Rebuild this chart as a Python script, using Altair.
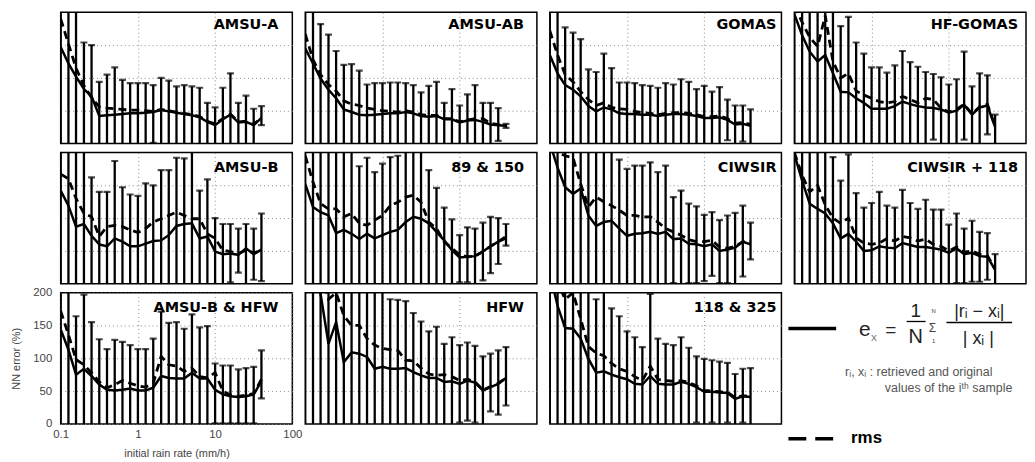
import altair as alt
import pandas as pd

# rain-rate bins (mm/h)
RATES = [0.1, 0.126, 0.158, 0.2, 0.251, 0.316, 0.398, 0.501, 0.631, 0.794, 1.0,
         1.26, 1.58, 2.0, 2.51, 3.16, 3.98, 5.01, 6.31, 7.94, 10.0, 12.6, 15.8,
         20.0, 25.1, 31.6, 39.8]

PANELS = ["AMSU-A", "AMSU-AB", "GOMAS", "HF-GOMAS",
          "AMSU-B", "89 & 150", "CIWSIR", "CIWSIR + 118",
          "AMSU-B & HFW", "HFW", "118 & 325"]

# mean relative error (solid), rms (dashed), top / bottom of error bar (%)
# 500 = top beyond the axis, -30 = bottom below the axis
AMSUA_MEAN = [147, 122, 102, 83, 72, 42, 43, 44, 45, 46, 46, 47, 48, 51, 49, 47, 45, 43, 40, 33, 28, 37, 44, 32, 33, 28, 39]
AMSUA_RMS = [190, 152, 115, 88, 70, 56, 54, 53, 52, 51, 51, 50, 49, 52, 50, 48, 46, 44, 41, 34, 30, 38, 45, 33, 34, 29, 40]
AMSUA_UP = [500, 500, 500, 154, 150, 94, 105, 116, 97, 92, 92, 92, 89, 100, 96, 87, 89, 87, 85, 62, 55, 85, 107, 62, 73, 53, 57]
AMSUA_LOW = [-30, -30, -30, -30, -30, -30, -30, -30, -30, -30, -30, -30, 1, -30, -30, -30, -30, -30, -30, -30, -30, -30, -30, -30, -30, -30, 28]

AMSUAB_MEAN = [145, 122, 99, 82, 69, 52, 48, 44, 43, 44, 45, 46, 46, 48, 46, 42, 41, 42, 37, 37, 32, 35, 36, 33, 29, 28, 27]
AMSUAB_RMS = [167, 128, 105, 90, 80, 65, 60, 58, 54, 52, 50, 49, 48, 50, 48, 44, 43, 43, 38, 38, 33, 36, 38, 38, 31, 29, 26]
AMSUAB_UP = [500, 500, 182, 166, 141, 120, 121, 111, 90, 92, 92, 93, 93, 92, 89, 78, 88, 94, 62, 83, 58, 75, 89, 62, 62, 54, 30]
AMSUAB_LOW = [-30, -30, -30, -30, -30, -30, -30, -30, -30, -30, -30, -30, -30, -30, -30, -30, -30, -30, -30, -30, -30, -30, -30, -30, -30, 4, 24]

GOMAS_MEAN = [135, 107, 89, 82, 72, 57, 49, 55, 52, 46, 45, 45, 44, 44, 42, 44, 45, 45, 44, 42, 39, 39, 40, 36, 29, 30, 27]
GOMAS_RMS = [172, 135, 105, 94, 79, 67, 58, 62, 55, 53, 52, 49, 47, 46, 44, 46, 47, 47, 46, 44, 41, 41, 42, 38, 31, 32, 29]
GOMAS_UP = [500, 500, 177, 169, 159, 113, 109, 137, 115, 93, 93, 92, 89, 88, 85, 92, 90, 98, 94, 83, 88, 79, 86, 67, 58, 58, 52]
GOMAS_LOW = [-30, -30, -30, -30, -30, -30, -30, -30, -30, -30, -30, -30, -30, -30, -30, -30, -30, -30, -30, -30, -30, -30, -30, 5, -30, 3, -30]

HFGOMAS_MEAN = [197, 165, 140, 125, 135, 107, 79, 78, 69, 62, 53, 53, 53, 57, 64, 60, 57, 55, 54, 52, 47, 50, 59, 44, 55, 58, 25]
HFGOMAS_RMS = [210, 185, 162, 148, 195, 125, 100, 107, 80, 74, 69, 64, 62, 64, 72, 67, 62, 69, 67, 54, 48, 52, 60, 45, 56, 60, 27]
HFGOMAS_UP = [500, 500, 500, 500, 500, 500, 179, 193, 154, 137, 116, 116, 108, 119, 141, 124, 117, 109, 106, 101, 90, 98, 140, 87, 107, 104, 44]
HFGOMAS_LOW = [-30, -30, -30, -30, -30, -30, -30, -30, -30, -30, -30, -30, -30, -30, -30, -30, -30, -30, 6, -30, -30, -30, 6, -30, -30, 14, -30]

AMSUB_MEAN = [142, 119, 87, 91, 73, 60, 57, 69, 64, 57, 57, 61, 65, 66, 74, 88, 91, 92, 69, 72, 49, 45, 46, 44, 54, 45, 52]
AMSUB_RMS = [167, 160, 130, 107, 102, 72, 87, 89, 87, 82, 78, 84, 94, 99, 104, 109, 104, 99, 99, 76, 69, 51, 49, 46, 51, 47, 51]
AMSUB_UP = [500, 500, 500, 500, 162, 140, 140, 187, 147, 136, 134, 153, 150, 173, 173, 192, 191, 500, 142, 159, 100, 91, 91, 84, 91, 84, 107]
AMSUB_LOW = [-30, -30, -30, -30, -30, -30, -30, -30, -30, -30, -30, -30, -30, -30, -30, -30, -30, -30, -30, -30, -30, -30, 2, 17, -30, 6, 4]

C89_MEAN = [152, 117, 109, 104, 77, 82, 76, 68, 76, 69, 74, 79, 82, 94, 102, 99, 92, 79, 66, 51, 40, 41, 42, 49, 57, 64, 69]
C89_RMS = [195, 155, 122, 114, 114, 102, 107, 92, 89, 97, 104, 119, 124, 132, 135, 124, 94, 84, 64, 54, 44, 41, 42, 49, 57, 64, 72]
C89_UP = [500, 500, 500, 500, 500, 500, 500, 179, 192, 170, 183, 193, 195, 500, 500, 500, 173, 146, 116, 98, 74, 86, 84, 93, 102, 100, 91]
C89_LOW = [-30, -30, -30, -30, -30, -30, -30, -30, -30, -30, -30, -30, -30, -30, -30, -30, -30, -30, -30, -30, 2, 2, -30, 5, 16, 30, 58]

CIWSIR_MEAN = [215, 177, 147, 137, 145, 104, 88, 94, 96, 84, 73, 76, 77, 79, 76, 79, 68, 69, 61, 60, 57, 60, 50, 52, 55, 64, 60]
CIWSIR_RMS = [230, 200, 195, 192, 152, 117, 132, 125, 119, 112, 104, 104, 102, 102, 94, 84, 79, 74, 67, 64, 64, 66, 56, 54, 57, 64, 64]
CIWSIR_UP = [500, 500, 500, 500, 500, 500, 500, 500, 500, 189, 175, 180, 180, 185, 170, 180, 132, 142, 122, 118, 105, 109, 97, 104, 108, 119, 93]
CIWSIR_LOW = [-30, -30, -30, -30, -30, -30, -30, -30, -30, -30, -30, -30, -30, -30, -30, -30, 1, -30, 1, 1, 4, 12, 1, 1, -30, 11, 37]

CIW118_MEAN = [197, 157, 122, 114, 107, 92, 69, 76, 64, 50, 51, 57, 55, 54, 62, 59, 56, 56, 54, 52, 47, 54, 45, 47, 42, 41, 21]
CIW118_RMS = [200, 165, 140, 150, 120, 100, 92, 100, 70, 62, 60, 62, 69, 65, 72, 70, 65, 68, 60, 57, 50, 56, 48, 50, 45, 43, 22]
CIW118_UP = [500, 500, 500, 500, 500, 193, 157, 197, 138, 116, 123, 140, 119, 116, 143, 123, 114, 128, 113, 113, 90, 107, 84, 96, 79, 77, 45]
CIW118_LOW = [-30, -30, -30, -30, -30, -30, -30, -30, -30, -30, -30, -30, -30, -30, -30, -30, -30, -30, -30, -30, -30, 1, 1, 3, 3, 6, -30]

BHFW_MEAN = [144, 113, 75, 84, 73, 60, 52, 51, 52, 54, 51, 51, 55, 73, 70, 69, 69, 78, 69, 69, 52, 45, 42, 41, 42, 45, 65]
BHFW_RMS = [172, 136, 98, 90, 78, 64, 55, 60, 66, 62, 58, 56, 62, 103, 90, 88, 80, 85, 72, 70, 78, 50, 44, 42, 44, 46, 68]
BHFW_UP = [500, 500, 164, 197, 155, 129, 114, 128, 125, 120, 114, 114, 130, 171, 154, 155, 145, 167, 147, 149, 92, 89, 89, 83, 85, 87, 112]
BHFW_LOW = [-30, -30, -30, -30, -30, -30, -30, -30, -30, -30, -30, -30, -30, -30, -30, -30, -30, -30, -30, -30, 1, 1, 1, 1, 1, 1, 39]

HFW_MEAN = [240, 230, 198, 122, 155, 94, 109, 107, 102, 84, 87, 84, 84, 85, 79, 74, 70, 70, 64, 65, 61, 66, 63, 51, 56, 61, 70]
HFW_RMS = [260, 250, 230, 190, 200, 165, 150, 150, 130, 120, 115, 113, 112, 97, 96, 85, 76, 74, 75, 72, 66, 68, 64, 52, 57, 62, 70]
HFW_UP = [500, 500, 500, 500, 500, 500, 500, 500, 500, 500, 500, 190, 189, 187, 169, 156, 141, 148, 122, 132, 120, 124, 119, 103, 107, 112, 117]
HFW_LOW = [-30, -30, -30, -30, -30, -30, -30, -30, -30, -30, -30, -30, -30, -30, -30, -30, -30, -30, -30, -30, 2, 5, 2, -30, 19, 14, 28]

C118_MEAN = [230, 180, 146, 145, 130, 99, 78, 80, 75, 71, 68, 61, 60, 73, 61, 60, 60, 64, 61, 56, 49, 49, 48, 47, 38, 42, 41]
C118_RMS = [240, 215, 190, 200, 160, 118, 108, 104, 92, 84, 80, 72, 66, 88, 68, 66, 65, 66, 63, 58, 51, 50, 49, 48, 40, 43, 42]
C118_UP = [500, 500, 500, 500, 500, 500, 190, 500, 176, 164, 141, 132, 117, 198, 130, 122, 120, 132, 116, 103, 99, 97, 95, 93, 76, 84, 85]
C118_LOW = [-30, -30, -30, -30, -30, -30, -30, -30, -30, -30, -30, -30, -30, -30, -30, -30, -30, -30, -30, 2, -30, 2, -30, 2, -30, 2, -30]

SERIES = {
    "AMSU-A": (AMSUA_MEAN, AMSUA_RMS, AMSUA_UP, AMSUA_LOW),
    "AMSU-AB": (AMSUAB_MEAN, AMSUAB_RMS, AMSUAB_UP, AMSUAB_LOW),
    "GOMAS": (GOMAS_MEAN, GOMAS_RMS, GOMAS_UP, GOMAS_LOW),
    "HF-GOMAS": (HFGOMAS_MEAN, HFGOMAS_RMS, HFGOMAS_UP, HFGOMAS_LOW),
    "AMSU-B": (AMSUB_MEAN, AMSUB_RMS, AMSUB_UP, AMSUB_LOW),
    "89 & 150": (C89_MEAN, C89_RMS, C89_UP, C89_LOW),
    "CIWSIR": (CIWSIR_MEAN, CIWSIR_RMS, CIWSIR_UP, CIWSIR_LOW),
    "CIWSIR + 118": (CIW118_MEAN, CIW118_RMS, CIW118_UP, CIW118_LOW),
    "AMSU-B & HFW": (BHFW_MEAN, BHFW_RMS, BHFW_UP, BHFW_LOW),
    "HFW": (HFW_MEAN, HFW_RMS, HFW_UP, HFW_LOW),
    "118 & 325": (C118_MEAN, C118_RMS, C118_UP, C118_LOW),
}

W, H = 233, 132
TITLE_INSET = [14, 13, 5, 8]
TITLE_BASE = [17, 19.5, 19.5]
GRID = dict(grid=True, gridDash=[1, 3], gridColor="#888", gridWidth=1, ticks=False, domain=False)
FONT = "Liberation Sans"


def panel(i, name):
    mean, rms, up, low = SERIES[name]
    df = pd.DataFrame({"rate": RATES, "mean": mean, "rms": rms, "upper": up, "lower": low})
    xs = alt.Scale(type="log", domain=[0.1, 100])
    ys = alt.Scale(domain=[0, 200], nice=False)
    if i == 8:
        xa = alt.Axis(values=[0.1, 1, 10, 100], format="~g", labelFlush=False,
                      labelFontSize=11.5, labelColor="#444", labelFont=FONT, labelPadding=5,
                      title="initial rain rate (mm/h)", titleFontSize=11, titleFont=FONT,
                      titleFontWeight="normal", titleColor="#444", titlePadding=7, **GRID)
        ya = alt.Axis(values=[0, 50, 100, 150, 200], labelFontSize=11.5, labelColor="#444",
                      labelFont=FONT, labelPadding=9, title="NN error (%)", titleFontSize=11,
                      titleFont=FONT, titleFontWeight="normal", titleColor="#444",
                      titlePadding=11, **GRID)
    else:
        xa = alt.Axis(values=[1, 10], labels=False, title="", **GRID)
        ya = alt.Axis(values=[50, 100, 150], labels=False, title="", **GRID)

    def X():
        return alt.X("rate:Q", scale=xs, axis=xa)

    def Y(f):
        return alt.Y(f"{f}:Q", scale=ys, axis=ya)

    base = alt.Chart(df)
    bars = base.mark_rule(color="black", strokeWidth=2.3, clip=True).encode(
        x=X(), y=Y("lower"), y2="upper:Q")
    top = base.mark_tick(orient="horizontal", size=7, thickness=2.2, color="black",
                         clip=True).encode(x=X(), y=Y("upper"))
    bot = base.mark_tick(orient="horizontal", size=7, thickness=2.2, color="black",
                         clip=True).encode(x=X(), y=Y("lower"))
    mline = base.mark_line(color="black", strokeWidth=2.5, clip=True).encode(
        x=X(), y=Y("mean"))
    rline = base.mark_line(color="black", strokeWidth=2.8, strokeDash=[8, 5],
                           clip=True).encode(x=X(), y=Y("rms"))
    title = alt.Chart(pd.DataFrame({"t": [name]})).mark_text(
        align="right", baseline="alphabetic", font="DejaVu Sans", fontWeight="bold",
        fontSize=14.5, color="black").encode(
        text="t:N", x=alt.value(W - TITLE_INSET[i % 4]), y=alt.value(TITLE_BASE[i // 4]))
    return alt.layer(bars, top, bot, mline, rline, title).properties(width=W, height=H)


one = pd.DataFrame({"d": [0]})


def txt(s, x, y, size, align="center", **kw):
    return alt.Chart(one).mark_text(text=s, fontSize=size, font=FONT, align=align,
                                    baseline="alphabetic", **kw).encode(
        x=alt.value(x), y=alt.value(y))


def rule(x1, x2, y, **kw):
    return alt.Chart(one).mark_rule(color="black", **kw).encode(
        x=alt.value(x1), x2=alt.value(x2), y=alt.value(y))


legend = alt.layer(
    rule(-6, 42, 36, strokeWidth=3.4),
    txt("e", 65, 44, 21, align="left", color="#222"),
    txt("X", 77, 49, 9, align="left", color="#666"),
    txt("=", 97, 44, 19, color="#222"),
    txt("1", 122, 24, 19, color="#222"),
    rule(113, 132, 29, strokeWidth=1.3),
    txt("N", 122, 51, 20, color="#222"),
    txt("Σ", 139, 40, 12, color="#444"),
    txt("N", 140, 20, 6, color="#444"),
    txt("1", 140, 51, 6, color="#444"),
    txt("|rᵢ − xᵢ|", 186, 24, 18, color="#222"),
    rule(153, 219, 30, strokeWidth=1.3),
    txt("| xᵢ |", 185, 52, 18, color="#222"),
    txt("rᵢ, xᵢ : retrieved and original", 51, 84, 12.5, align="left", color="#555"),
    txt("values of the iᵗʰ sample", 91, 100, 12.5, align="left", color="#555"),
    rule(-6, 39, 147, strokeWidth=3.6, strokeDash=[18, 9]),
    txt("rms", 57, 151, 17, align="left", fontWeight="bold", color="black"),
).properties(width=W, height=H, view=alt.ViewBackground(strokeOpacity=0))

cells = [panel(i, n) for i, n in enumerate(PANELS)] + [legend]

chart = alt.concat(*cells, columns=4, spacing={"row": 9, "column": 13},
                   bounds="flush").properties(
    padding={"left": 2, "top": 2, "right": 0, "bottom": 0}
).configure_view(stroke="black", strokeWidth=1.5)

chart.save("out.html", embed_options={"renderer": "svg", "actions": False})
